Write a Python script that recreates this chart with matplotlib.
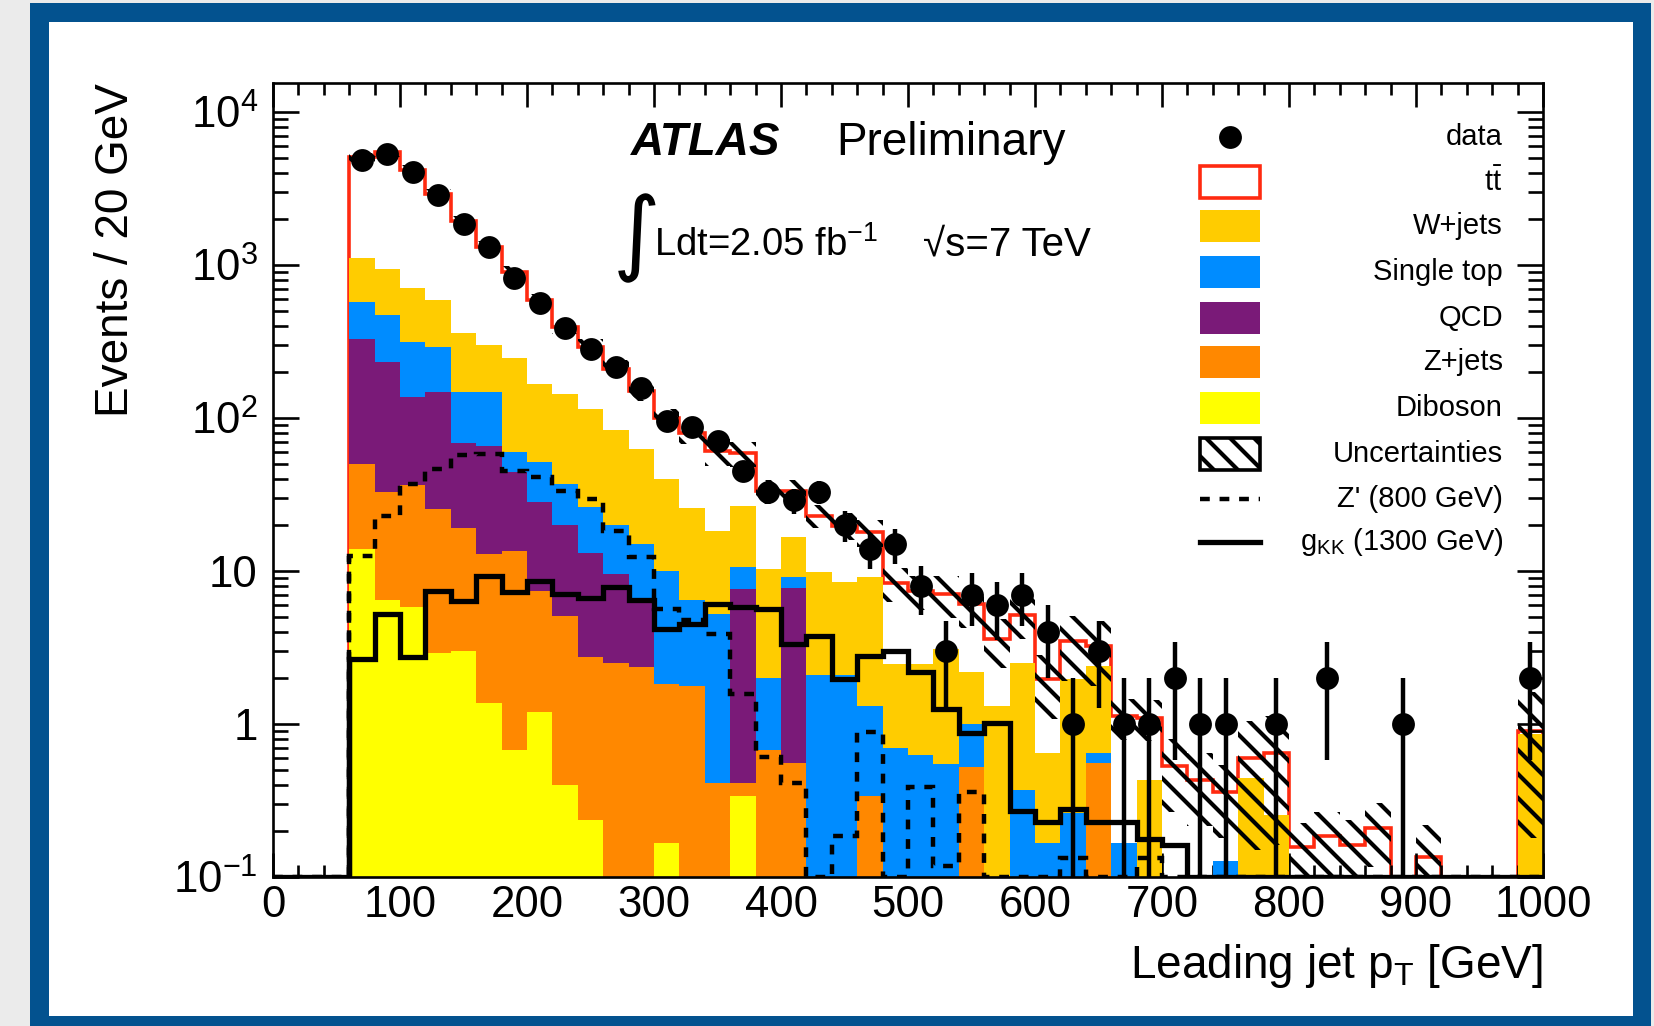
import numpy as np
import matplotlib.pyplot as plt
from matplotlib.patches import Rectangle
from matplotlib.lines import Line2D
from matplotlib.ticker import FixedLocator, FixedFormatter, MultipleLocator, NullFormatter

# drawing at 144 dpi makes the hatch spacing close to ROOT's; sizes below are
# given for 100 dpi and scaled with S
DPI = 144
S = 100 / DPI

plt.rcParams['font.family'] = ['Liberation Sans', 'DejaVu Sans']
plt.rcParams['mathtext.fontset'] = 'custom'
plt.rcParams['mathtext.rm'] = 'Liberation Sans'
plt.rcParams['mathtext.it'] = 'Liberation Sans:italic'
plt.rcParams['mathtext.bf'] = 'Liberation Sans:bold'
plt.rcParams['hatch.linewidth'] = 3.0 * S

# 20 GeV bins, 0..1000 GeV (first three bins empty)
edges = np.arange(0, 1001, 20)

data = [0, 0, 0,
        4856, 5300, 4035, 2840, 1841, 1316, 816, 560, 384, 284,
        215, 157, 95, 87, 71, 45, 33, 29, 33, 20,
        14, 15, 8, 3, 7, 6, 7, 4, 1, 3,
        1, 1, 2, 1, 1, 0, 1, 0, 2, 0,
        0, 1, 0, 0, 0, 0, 2]

diboson = [0, 0, 0,
           13.9, 6.5, 5.8, 2.93, 3.0, 1.38, 0.68, 1.19, 0.40, 0.235,
           0, 0, 0.168, 0, 0, 0.34, 0, 0, 0, 0,
           0, 0, 0, 0, 0, 0, 0, 0, 0, 0,
           0, 0, 0, 0, 0, 0, 0, 0, 0, 0,
           0, 0, 0, 0, 0, 0, 0]
zjets = [0, 0, 0,
         36.1, 26.1, 30.7, 22.5, 16.2, 11.5, 12.9, 6.2, 4.7, 2.49,
         2.52, 2.34, 1.65, 1.77, 0.41, 0.07, 0.68, 0.56, 0, 0,
         0.34, 0, 0, 0, 0.52, 0, 0, 0, 0, 0.56,
         0, 0, 0, 0, 0, 0, 0, 0, 0, 0,
         0, 0, 0, 0, 0, 0, 0]
qcd = [0, 0, 0,
       280, 199, 100, 123, 49, 53, 31, 21, 15, 10.3,
       7.0, 4.2, 0, 0, 0, 7.2, 0, 7.2, 0, 0,
       0, 0, 0, 0, 0, 0, 0, 0, 0, 0,
       0, 0, 0, 0, 0, 0, 0, 0, 0, 0,
       0, 0, 0, 0, 0, 0, 0]
single_top = [0, 0, 0,
              240, 236, 177, 142, 80, 82, 15, 23, 17, 13,
              10.5, 8.5, 8.2, 4.7, 4.8, 3.0, 1.32, 1.3, 2.1, 2.1,
              0.97, 0.70, 0.63, 0.55, 0.48, 0, 0.37, 0.167, 0.26, 0.09,
              0.167, 0, 0, 0, 0.127, 0, 0, 0, 0, 0,
              0, 0, 0, 0, 0, 0, 0]
wjets = [0, 0, 0,
         544, 472, 391, 298, 213, 150, 187, 116, 107, 89,
         63, 48, 30, 19.5, 13.1, 16.1, 8.3, 7.5, 7.7, 6.4,
         7.8, 1.76, 1.83, 2.53, 1.17, 1.31, 2.15, 0.48, 1.7, 1.74,
         0, 0.43, 0, 0, 0, 0.445, 0.256, 0, 0, 0,
         0, 0, 0, 0, 0, 0, 0.855]
ttbar = [0, 0, 0,
         3921, 4490, 3475, 2312, 1575, 1018, 655, 421, 250, 176,
         127, 87, 60, 54, 42.7, 31.9, 23.2, 16.9, 13.1, 11.3,
         8.8, 5.9, 4.9, 4.0, 3.9, 2.27, 2.6, 1.31, 1.53, 0.85,
         0.96, 0.67, 0.53, 0.43, 0.23, 0.155, 0.39, 0.156, 0.184, 0.163,
         0.21, 0, 0.136, 0, 0, 0, 0.05]
# relative size of the hatched uncertainty band
unc_rel = [0, 0, 0,
           0.07, 0.07, 0.07, 0.08, 0.08, 0.09, 0.09, 0.10, 0.11, 0.12,
           0.13, 0.14, 0.15, 0.16, 0.20, 0.18, 0.18, 0.18, 0.17, 0.20,
           0.20, 0.25, 0.25, 0.30, 0.30, 0.35, 0.30, 0.45, 0.45, 0.45,
           0.30, 0.30, 0.50, 0.50, 0.50, 0.75, 0.75, 0.45, 0.45, 0.45,
           0.45, 0, 0.60, 0, 0, 0, 0.80]

zprime = [0, 0, 0,
          12.6, 23, 37, 46.5, 56.8, 58, 45, 41, 33.5, 29.5,
          18.3, 12.3, 5.6, 4.8, 3.9, 1.56, 0.61, 0.41, 0, 0.185,
          0.885, 0, 0.39, 0.118, 0.36, 0, 0, 0, 0.134, 0,
          0, 0.134, 0, 0, 0, 0, 0, 0, 0, 0,
          0, 0, 0, 0, 0, 0, 0]
gkk = [0, 0, 0,
       2.65, 5.2, 2.72, 7.4, 6.4, 9.3, 7.3, 8.6, 7.07, 6.7,
       7.8, 6.5, 4.16, 4.49, 6.1, 5.8, 5.6, 3.32, 3.73, 1.96,
       2.78, 3.0, 2.17, 1.25, 0.877, 1.02, 0.27, 0.23, 0.28, 0.23,
       0.23, 0.177, 0.163, 0, 0, 0, 0, 0, 0, 0,
       0, 0, 0, 0, 0, 0, 0]

ytick_vals = [0.1, 1, 10, 100, 1000, 10000]
ytick_labels = [r'$10^{-1}$', '1', '10', r'$10^{2}$', r'$10^{3}$', r'$10^{4}$']

legend_labels = ['data', r'$\mathrm{t\bar{t}}$', 'W+jets', 'Single top', 'QCD', 'Z+jets',
                 'Diboson', 'Uncertainties', "Z' (800 GeV)", r'g$_{\mathrm{KK}}$ (1300 GeV)']

c_red = '#ff2a10'
c_w = '#ffcc00'
c_st = '#008cff'
c_qcd = '#7a1a78'
c_z = '#ff8800'
c_db = '#ffff00'

W, H = 1654, 1026
fig = plt.figure(figsize=(W / DPI, H / DPI), dpi=DPI)
fig.patch.set_facecolor('#ebebeb')
fig.patches.append(Rectangle((31 / W, 0), (1650 - 31) / W, (1026 - 4) / H,
                             transform=fig.transFigure, color='#03528f', zorder=-3))
fig.patches.append(Rectangle((50 / W, 1 - 1015 / H), (1632 - 50) / W, (1015 - 23) / H,
                             transform=fig.transFigure, color='white', zorder=-2))

ax = fig.add_axes([273 / W, 1 - 877 / H, (1543 - 273) / W, (877 - 82.7) / H])
ax.set_facecolor('none')
ax.set_yscale('log')
ax.set_xlim(0, 1000)
ax.set_ylim(0.1, 1.55e4)

# cumulative stack
cum_db = np.array(diboson)
cum_z = cum_db + np.array(zjets)
cum_qcd = cum_z + np.array(qcd)
cum_st = cum_qcd + np.array(single_top)
cum_w = cum_st + np.array(wjets)
total = cum_w + np.array(ttbar)

base = 1e-3
ax.stairs(total, edges, baseline=base, fill=True, facecolor='white', edgecolor=c_red, lw=2.6 * S, zorder=1)
ax.stairs(cum_w, edges, baseline=base, fill=True, color=c_w, lw=0, zorder=2)
ax.stairs(cum_st, edges, baseline=base, fill=True, color=c_st, lw=0, zorder=3)
ax.stairs(cum_qcd, edges, baseline=base, fill=True, color=c_qcd, lw=0, zorder=4)
ax.stairs(cum_z, edges, baseline=base, fill=True, color=c_z, lw=0, zorder=5)
ax.stairs(cum_db, edges, baseline=base, fill=True, color=c_db, lw=0, zorder=6)

# uncertainty band
u = np.array(unc_rel)
hi = np.where(u > 0, total * (1 + u), base)
lo = np.where(u > 0, np.maximum(total * (1 - u), 0.05), base)
ax.stairs(hi, edges, baseline=lo, fill=True, facecolor='none', edgecolor='black',
          hatch='\\\\', lw=0, zorder=7)

# signals
dots = (0, (2.2, 2.2))
ax.stairs(np.maximum(zprime, 0.1), edges, color='black', lw=3.2 * S, ls=dots, zorder=8, baseline=None)
ax.stairs(np.maximum(gkk, 0.1), edges, color='black', lw=3.8 * S, zorder=8, baseline=None)
ax.plot([60, 60], [0.1, gkk[3]], color='black', lw=3.8 * S, zorder=8)
ax.plot([60, 60], [0.1, zprime[3]], color='black', lw=3.2 * S, ls=dots, zorder=8)

# data
centers = 0.5 * (edges[:-1] + edges[1:])
d = np.array(data, dtype=float)
m = d > 0
err = np.sqrt(d[m])
err_lo = np.minimum(err, d[m] - 1e-3)
ax.errorbar(centers[m], d[m], yerr=[err_lo, err], fmt='o', color='black', ms=15 * S,
            elinewidth=3.2 * S, capsize=0, zorder=9)

# axes styling
for s in ax.spines.values():
    s.set_linewidth(1.9 * S)
    s.set_zorder(10)
ax.xaxis.set_major_locator(MultipleLocator(100))
ax.xaxis.set_minor_locator(MultipleLocator(20))
ax.yaxis.set_major_locator(FixedLocator(ytick_vals))
ax.yaxis.set_major_formatter(FixedFormatter(ytick_labels))
minor_y = [k * 10.0 ** e for e in range(-1, 4) for k in range(2, 10)]
ax.yaxis.set_minor_locator(FixedLocator(minor_y))
ax.yaxis.set_minor_formatter(NullFormatter())
ax.tick_params(which='both', direction='in', top=True, right=True, width=1.9 * S, colors='black')
ax.tick_params(axis='x', which='major', length=17 * S, labelsize=31.5 * S, pad=6 * S)
ax.tick_params(axis='x', which='minor', length=8.5 * S)
ax.tick_params(axis='y', which='major', length=19 * S, labelsize=31.5 * S, pad=11 * S)
ax.tick_params(axis='y', which='minor', length=11 * S)

# labels
def fx(x):
    return x / W

def fy(y):
    return 1 - y / H

fig.text(fx(116), fy(83), 'Events / 20 GeV', rotation=90, ha='center', va='top', fontsize=33 * S)
fig.text(fx(1543), fy(978), r'Leading jet p$_{\mathrm{T}}$ [GeV]', ha='right', va='baseline',
         fontsize=33 * S)

fig.text(fx(631), fy(155), 'ATLAS', fontsize=33 * S, fontweight='bold', fontstyle='italic', va='baseline')
fig.text(fx(836), fy(155), 'Preliminary', fontsize=33 * S, va='baseline')
fig.text(fx(637), fy(238), '\u222b', fontsize=66 * S, ha='center', va='center',
         family=['DejaVu Sans'])
fig.text(fx(654), fy(256), r'Ldt=2.05 fb$^{-1}$', fontsize=27.5 * S, va='baseline')
fig.text(fx(923), fy(256), '\u221as=7 TeV', fontsize=29 * S, va='baseline')

# legend (ROOT style: symbol left, label right-aligned)
rows = [137, 182, 226, 272, 318, 362, 408, 454, 499, 542]
bx0, bx1, bh = 1200, 1260, 32
lab_x = 1503
ax.add_line(Line2D([fx(1230)], [fy(rows[0])], marker='o', ms=15 * S, color='black',
                   transform=fig.transFigure, clip_on=False))
box_styles = [dict(facecolor='white', edgecolor=c_red, lw=2.6 * S),
              dict(facecolor=c_w, edgecolor='none'),
              dict(facecolor=c_st, edgecolor='none'),
              dict(facecolor=c_qcd, edgecolor='none'),
              dict(facecolor=c_z, edgecolor='none'),
              dict(facecolor=c_db, edgecolor='none'),
              dict(facecolor='white', edgecolor='black', lw=2.6 * S, hatch='\\\\')]
for i, st in enumerate(box_styles):
    y = rows[i + 1]
    ax.add_patch(Rectangle((fx(bx0), fy(y + bh / 2)), (bx1 - bx0) / W, bh / H,
                           transform=fig.transFigure, clip_on=False, **st))
ax.add_line(Line2D([fx(bx0), fx(bx1)], [fy(rows[8])] * 2, color='black', lw=3.2 * S,
                   ls=dots, transform=fig.transFigure, clip_on=False))
ax.add_line(Line2D([fx(bx0), fx(bx1)], [fy(rows[9])] * 2, color='black', lw=3.8 * S,
                   transform=fig.transFigure, clip_on=False))
for y, lab in zip(rows, legend_labels):
    fig.text(fx(lab_x), fy(y), lab, ha='right', va='center', fontsize=21 * S)

fig.savefig('out.png', dpi=DPI, facecolor=fig.get_facecolor())
